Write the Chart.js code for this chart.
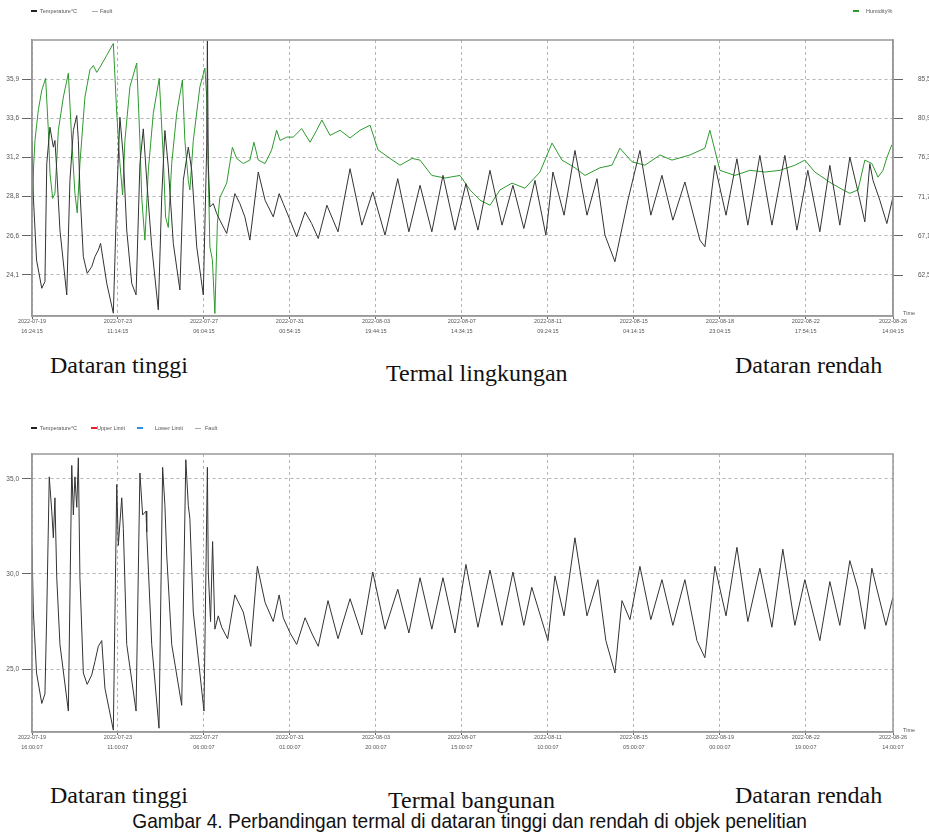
<!DOCTYPE html>
<html>
<head>
<meta charset="utf-8">
<script src="https://cdn.jsdelivr.net/npm/chart.js@4.4.1/dist/chart.umd.min.js"></script>
<style>
  body { margin:0; background:#fff; width:929px; height:836px; position:relative; overflow:hidden; font-family:"Liberation Sans", Arial, sans-serif; }
  canvas { position:absolute; left:0; }
  .lg { position:absolute; font-size:5.5px; color:#555; white-space:nowrap; line-height:6px; }
  .sw { position:absolute; height:2px; width:6px; }
  .fault { position:absolute; width:6px; border-top:1px dashed #aaa; }
  .serif { position:absolute; font-family:"Liberation Serif","Times New Roman",serif; font-size:24px; line-height:26px; color:#111; white-space:nowrap; }
  .caption { position:absolute; left:0; width:940px; text-align:center; top:809px; font-family:"Liberation Sans",Arial,sans-serif; font-size:21px; line-height:24px; color:#111; white-space:nowrap; }
  .caption span { display:inline-block; transform:scaleX(0.91); }
</style>
</head>
<body>
<canvas id="topChart" width="929" height="345" style="top:0"></canvas>
<canvas id="bottomChart" width="929" height="350" style="top:414px"></canvas>

<!-- top legend -->
<div class="sw" style="left:31px;top:10px;background:#222"></div>
<div class="lg" style="left:40px;top:8px">Temperature°C</div>
<div class="fault" style="left:92px;top:11px"></div>
<div class="lg" style="left:100px;top:8px">Fault</div>
<div class="sw" style="left:853px;top:10px;background:#2e9a2e"></div>
<div class="lg" style="left:866px;top:8px">Humidity%</div>
<div class="lg" style="left:903px;top:310px">Time</div>

<!-- bottom legend -->
<div class="sw" style="left:31px;top:427px;background:#222"></div>
<div class="lg" style="left:40px;top:425px">Temperature°C</div>
<div class="sw" style="left:91px;top:427px;background:#e8202a"></div>
<div class="lg" style="left:97px;top:425px">Upper Limit</div>
<div class="sw" style="left:137px;top:427px;background:#2a8ee8"></div>
<div class="lg" style="left:155px;top:425px">Lower Limit</div>
<div class="fault" style="left:195px;top:428px"></div>
<div class="lg" style="left:205px;top:425px">Fault</div>
<div class="lg" style="left:903px;top:727px">Time</div>

<div class="serif" style="left:50px;top:352px">Dataran tinggi</div>
<div class="serif" style="left:386px;top:360px">Termal lingkungan</div>
<div class="serif" style="left:735px;top:352px">Dataran rendah</div>
<div class="serif" style="left:50px;top:782px">Dataran tinggi</div>
<div class="serif" style="left:388px;top:787px">Termal bangunan</div>
<div class="serif" style="left:735px;top:782px">Dataran rendah</div>
<div class="caption"><span>Gambar 4. Perbandingan termal di dataran tinggi dan rendah di objek penelitian</span></div>

<script>
// x values are days since the first sample
const xTickDays = [0, 3.78, 7.57, 11.35, 15.14, 18.92, 22.71, 26.49, 30.28, 34.06, 37.9];
const xEnd = 37.9;

const topTimeLabels = [
  ["2022-07-19", "16:24:15"], ["2022-07-23", "11:14:15"], ["2022-07-27", "06:04:15"],
  ["2022-07-31", "00:54:15"], ["2022-08-03", "19:44:15"], ["2022-08-07", "14:34:15"],
  ["2022-08-11", "09:24:15"], ["2022-08-15", "04:14:15"], ["2022-08-18", "23:04:15"],
  ["2022-08-22", "17:54:15"], ["2022-08-26", "14:04:15"]
];
const bottomTimeLabels = [
  ["2022-07-19", "16:00:07"], ["2022-07-23", "11:00:07"], ["2022-07-27", "06:00:07"],
  ["2022-07-31", "01:00:07"], ["2022-08-03", "20:00:07"], ["2022-08-07", "15:00:07"],
  ["2022-08-11", "10:00:07"], ["2022-08-15", "05:00:07"], ["2022-08-19", "00:00:07"],
  ["2022-08-22", "19:00:07"], ["2022-08-26", "14:00:07"]
];

const topTempTicks = [24.1, 26.46, 28.82, 31.18, 33.54, 35.9];
const topTempLabels = ["24,1", "26,6", "28,8", "31,2", "33,6", "35,9"];
const humTicks = [62.5, 67.1, 71.7, 76.3, 80.9, 85.5];
const humLabels = ["62,5", "67,1", "71,7", "76,3", "80,9", "85,5"];
const bottomTempTicks = [25, 30, 35];
const bottomTempLabels = ["25,0", "30,0", "35,0"];

// outdoor temperature (°C)
const tempTop = [
  [0,32.2],[0.06,28.8],[0.2,25.0],[0.43,23.3],[0.57,23.7],[0.65,30.8],[0.79,33.0],[0.94,31.8],[1.01,32.2],[1.09,30.4],
  [1.23,26.8],[1.53,22.9],[1.67,29.8],[1.82,32.8],[1.97,33.7],[2.04,32.2],[2.11,29.2],[2.26,25.2],[2.43,24.2],[2.63,24.6],
  [2.77,25.2],[2.92,25.6],[3.02,26.0],[3.29,23.6],[3.58,21.8],[3.73,28.8],[3.87,33.6],[4.02,31.2],[4.17,26.8],[4.39,23.6],
  [4.58,22.9],[4.75,30.8],[4.9,32.9],[5.05,29.8],[5.27,25.8],[5.56,22.0],[5.71,28.8],[5.85,32.8],[6.0,30.6],[6.22,26.0],
  [6.51,23.2],[6.66,29.8],[6.88,31.8],[7.03,30.4],[7.25,25.8],[7.54,22.9],[7.69,31.8],[7.72,38.2],[7.76,30.8],[7.83,28.2],
  [7.98,28.4],[8.13,27.8],[8.27,27.4],[8.57,26.6],[8.93,29.0],[9.15,28.4],[9.37,27.6],[9.59,26.2],[9.96,30.3],[10.26,28.6],
  [10.62,27.6],[10.88,29.0],[11.06,28.4],[11.36,27.4],[11.65,26.4],[12.02,27.9],[12.31,27.2],[12.6,26.3],[12.98,28.3],[13.47,26.7],
  [14.0,30.5],[14.52,27.1],[15.0,29.1],[15.54,26.5],[16.1,29.9],[16.59,26.7],[17.08,29.5],[17.6,26.7],[18.09,30.1],[18.62,26.8],
  [19.1,29.6],[19.63,26.8],[20.16,30.4],[20.69,27.1],[21.17,29.5],[21.65,26.9],[22.14,29.8],[22.62,26.5],[22.93,30.3],[23.42,27.7],
  [23.9,31.6],[24.43,27.7],[24.87,29.9],[25.22,26.5],[25.66,24.9],[26.23,28.6],[26.76,31.6],[27.24,27.7],[27.73,30.1],[28.21,27.4],
  [28.74,29.7],[29.4,26.2],[29.62,25.8],[30.06,30.7],[30.55,27.7],[31.03,31.1],[31.51,27.1],[32.04,31.3],[32.57,27.1],[33.14,31.3],
  [33.67,26.8],[34.15,30.4],[34.68,26.7],[35.12,30.7],[35.56,27.1],[36.0,31.2],[36.31,29.4],[36.66,27.3],[36.88,30.8],[37.02,29.8],
  [37.32,28.6],[37.63,27.2],[37.9,28.8]
];

// outdoor relative humidity (%)
const humTop = [
  [0,71.6],[0.13,78.3],[0.28,81.9],[0.43,84.2],[0.6,85.6],[0.72,79.5],[0.79,74.5],[0.91,71.5],[1.01,72.1],[1.16,79.5],
  [1.38,83.4],[1.6,86.2],[1.75,78.3],[1.89,72.1],[1.99,69.8],[2.11,75.6],[2.33,83.4],[2.55,86.6],[2.7,87.1],[2.85,86.3],
  [2.99,86.9],[3.29,88.3],[3.58,89.7],[3.73,81.5],[3.87,75.6],[3.99,71.9],[4.09,78.3],[4.31,84.6],[4.61,87.4],[4.75,78.3],
  [4.83,71.6],[4.97,66.6],[5.12,74.8],[5.34,81.5],[5.6,85.6],[5.78,76.3],[5.88,69.3],[6.0,68.1],[6.15,75.6],[6.37,81.5],
  [6.62,85.4],[6.73,78.3],[6.88,73.6],[6.95,72.5],[7.1,78.3],[7.39,84.6],[7.61,86.8],[7.69,83.4],[7.83,65.8],[7.94,64.3],
  [8.05,58.0],[8.16,68.6],[8.27,71.6],[8.57,73.3],[8.82,77.5],[9.01,76.2],[9.3,75.6],[9.59,76.0],[9.77,78.1],[9.96,76.0],
  [10.26,75.6],[10.55,77.2],[10.77,79.5],[10.92,78.3],[11.21,78.7],[11.5,78.7],[11.87,79.7],[12.24,78.1],[12.53,79.5],[12.76,80.7],
  [13.12,78.9],[13.56,79.5],[14.0,78.6],[14.44,79.5],[14.88,80.1],[15.23,77.2],[15.76,76.2],[16.2,75.4],[16.73,76.2],[17.08,76.0],
  [17.6,74.2],[18.18,73.9],[18.84,74.2],[19.28,72.5],[19.72,71.3],[20.16,70.7],[20.6,72.5],[21.13,73.3],[21.7,72.7],[22.36,74.6],
  [22.89,78.0],[23.33,76.0],[23.9,75.1],[24.34,74.2],[25.0,75.1],[25.53,75.4],[25.88,77.4],[26.41,75.8],[26.98,75.4],[27.64,76.6],
  [28.17,76.0],[28.96,76.6],[29.62,77.4],[29.84,79.5],[30.28,74.8],[30.94,74.2],[31.6,74.8],[32.26,74.6],[32.92,74.8],[33.58,75.4],
  [34.02,76.0],[34.46,74.6],[35.12,73.4],[35.7,72.5],[36.0,72.1],[36.36,72.5],[36.66,76.0],[36.97,75.6],[37.24,74.0],[37.46,74.8],
  [37.63,76.3],[37.85,77.8]
];

// building temperature (°C)
const tempBottom = [
  [0,31.4],[0.06,28.0],[0.2,24.8],[0.43,23.2],[0.57,23.7],[0.65,28.0],[0.76,35.1],[0.87,33.3],[0.94,31.9],[1.01,34.0],
  [1.09,29.8],[1.23,26.3],[1.6,22.8],[1.75,35.7],[1.82,33.1],[1.89,35.1],[1.97,33.5],[2.04,36.1],[2.11,29.8],[2.26,24.8],
  [2.43,24.2],[2.63,24.7],[2.77,25.4],[2.92,26.2],[3.07,26.5],[3.21,24.0],[3.58,21.8],[3.73,34.7],[3.8,31.5],[3.95,34.0],
  [4.02,32.4],[4.17,26.3],[4.58,22.8],[4.75,35.3],[4.87,33.1],[5.02,33.3],[5.05,32.2],[5.27,26.3],[5.59,21.9],[5.75,35.6],
  [5.85,33.6],[5.93,31.0],[6.15,26.3],[6.59,23.1],[6.77,36.0],[6.88,33.6],[6.95,32.9],[7.1,28.0],[7.57,22.8],[7.72,35.6],
  [7.76,30.1],[7.86,27.5],[7.95,31.7],[8.05,27.1],[8.2,27.8],[8.35,27.2],[8.61,26.6],[8.93,28.9],[9.3,28.0],[9.63,26.2],
  [9.92,30.4],[10.26,28.5],[10.62,27.5],[10.88,28.9],[11.06,27.7],[11.36,26.9],[11.65,26.3],[12.02,27.7],[12.31,26.9],[12.6,26.2],
  [13.03,28.6],[13.47,26.6],[14.0,28.7],[14.52,26.8],[15.0,30.1],[15.54,27.1],[16.1,29.2],[16.59,26.9],[17.08,29.8],[17.6,27.1],
  [18.09,29.8],[18.62,26.9],[19.1,30.5],[19.63,27.2],[20.16,30.2],[20.69,27.3],[21.17,30.1],[21.65,27.3],[22.0,29.3],[22.71,26.5],
  [23.02,29.9],[23.42,27.8],[23.9,31.9],[24.43,27.8],[24.91,29.7],[25.26,26.5],[25.66,24.8],[25.97,28.6],[26.32,27.6],[26.76,30.4],
  [27.24,27.6],[27.73,29.7],[28.21,27.3],[28.74,29.7],[29.27,26.5],[29.62,25.6],[30.06,30.4],[30.55,27.8],[31.03,31.4],[31.51,27.5],
  [32.04,30.3],[32.57,27.2],[33.05,31.3],[33.58,27.3],[34.02,29.7],[34.68,26.5],[35.12,29.6],[35.56,27.3],[36.0,30.7],[36.36,29.2],
  [36.66,27.1],[36.97,30.3],[37.15,29.4],[37.59,27.3],[37.9,28.8]
];

const toXY = arr => arr.map(p => ({ x: p[0], y: p[1] }));

const framePlugin = {
  id: 'frame',
  afterDraw(chart) {
    const a = chart.chartArea, ctx = chart.ctx;
    ctx.save();
    ctx.strokeStyle = '#999';
    ctx.lineWidth = 1.5;
    ctx.strokeRect(a.left, a.top, a.right - a.left, a.bottom - a.top);
    ctx.restore();
  }
};

function xAxis(labels, axisHeight) {
  return {
    type: 'linear', min: 0, max: xEnd,
    afterBuildTicks: s => { s.ticks = xTickDays.map(v => ({ value: v })); },
    afterFit: s => { s.height = axisHeight; },
    ticks: { autoSkip: false, maxRotation: 0, color: '#555', padding: -2,
      font: { size: 5.5, lineHeight: 1.8 }, callback: (v, i) => labels[i] },
    grid: { color: '#b5b5b5', tickColor: '#666', tickLength: 3 },
    border: { color: '#999', width: 1.5, dash: [3, 3] }
  };
}

function yAxis(pos, min, max, vals, labels, width, pad, onArea) {
  return {
    type: 'linear', position: pos, min: min, max: max,
    afterBuildTicks: s => { s.ticks = vals.map(v => ({ value: v })); },
    afterFit: s => { s.width = width; },
    ticks: { color: '#555', padding: pad, font: { size: 6.5 }, callback: (v, i) => labels[i] },
    grid: { color: '#b5b5b5', tickColor: '#666', tickLength: 10, drawOnChartArea: onArea },
    border: { color: '#999', width: 1.5, dash: [3, 3] }
  };
}

const baseOptions = {
  responsive: false,
  animation: false,
  devicePixelRatio: 1,
  elements: { point: { radius: 0 }, line: { borderWidth: 1, tension: 0 } },
  plugins: { legend: { display: false }, tooltip: { enabled: false } }
};

new Chart(document.getElementById('topChart'), {
  type: 'line',
  data: {
    datasets: [
      { label: 'Temperature°C', data: toXY(tempTop), borderColor: '#333', yAxisID: 'y' },
      { label: 'Humidity%', data: toXY(humTop), borderColor: '#2e9a2e', yAxisID: 'y1' }
    ]
  },
  options: Object.assign({}, baseOptions, {
    layout: { padding: { top: 40, left: 0, right: 0, bottom: 0 } },
    scales: {
      x: xAxis(topTimeLabels, 29),
      y: yAxis('left', 21.63, 38.25, topTempTicks, topTempLabels, 32, 3, true),
      y1: yAxis('right', 57.7, 90.1, humTicks, humLabels, 36, 15, false)
    }
  }),
  plugins: [framePlugin]
});

new Chart(document.getElementById('bottomChart'), {
  type: 'line',
  data: {
    datasets: [
      { label: 'Temperature°C', data: toXY(tempBottom), borderColor: '#333', yAxisID: 'y' }
    ]
  },
  options: Object.assign({}, baseOptions, {
    layout: { padding: { top: 40, left: 0, right: 36, bottom: 0 } },
    scales: {
      x: xAxis(bottomTimeLabels, 32),
      y: yAxis('left', 21.7, 36.3, bottomTempTicks, bottomTempLabels, 32, 3, true)
    }
  }),
  plugins: [framePlugin]
});
</script>
</body>
</html>
